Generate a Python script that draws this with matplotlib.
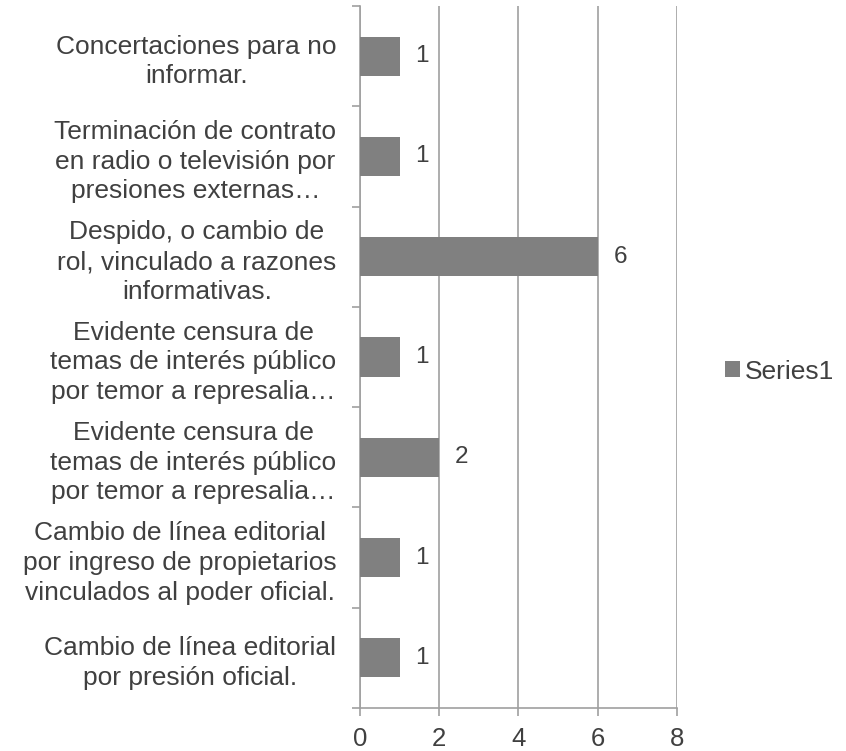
import matplotlib.pyplot as plt
import numpy as np
from matplotlib.patches import Patch

plt.rcParams['font.family'] = ['Liberation Sans', 'DejaVu Sans']

# categorias de arriba hacia abajo
categorias = [
    "Concertaciones para no\ninformar.",
    "Terminación de contrato\nen radio o televisión por\npresiones externas…",
    "Despido, o cambio de\nrol, vinculado a razones\ninformativas.",
    "Evidente censura de\ntemas de interés público\npor temor a represalia…",
    "Evidente censura de\ntemas de interés público\npor temor a represalia…",
    "Cambio de línea editorial\npor ingreso de propietarios\nvinculados al poder oficial.",
    "Cambio de línea editorial\npor presión oficial.",
]
valores = [1, 1, 6, 1, 2, 1, 1]
xticks = [0, 2, 4, 6, 8]

texto = '#404040'
gris_barra = '#808080'
gris_eje = '#a0a0a0'

fig = plt.figure(figsize=(8.46, 7.51), dpi=100)
ax = fig.add_axes([0.4255, 0.0573, 0.3747, 0.9347])

y = np.arange(len(categorias))
ax.barh(y, valores, height=0.39, color=gris_barra, zorder=3)
ax.set_ylim(len(categorias) - 0.5, -0.5)
ax.set_xlim(0, 8)

for yi, v in zip(y, valores):
    ax.annotate(str(v), (v, yi), xytext=(11.5, 0), textcoords='offset points',
                va='center', ha='left', fontsize=17.5, color=texto)

ax.set_xticks(xticks)
ax.set_xticklabels([str(t) for t in xticks], fontsize=18.5, color=texto)
ax.tick_params(axis='x', length=6, width=1.2, color=gris_eje, pad=8)

ax.set_yticks(y)
ax.set_yticklabels(categorias, fontsize=19, color=texto)
for t in ax.get_yticklabels():
    t.set_multialignment('center')
    t.set_linespacing(1.3)
ax.tick_params(axis='y', which='major', length=0, pad=17)
ax.set_yticks(np.arange(len(categorias) + 1) - 0.5, minor=True)
ax.tick_params(axis='y', which='minor', length=6, width=1.2, color=gris_eje)

ax.grid(axis='x', color=gris_eje, linewidth=1.2, zorder=0)
for s in ['top', 'right']:
    ax.spines[s].set_visible(False)
for s in ['left', 'bottom']:
    ax.spines[s].set_color(gris_eje)
    ax.spines[s].set_linewidth(1.2)

leyenda = [Patch(facecolor=gris_barra, label='Series1')]
fig.legend(handles=leyenda, loc='center left', bbox_to_anchor=(0.857, 0.505),
           frameon=False, fontsize=19, handlelength=0.55, handleheight=0.55,
           handletextpad=0.2, borderpad=0, borderaxespad=0, labelcolor=texto)

fig.savefig('out.png', dpi=100)
